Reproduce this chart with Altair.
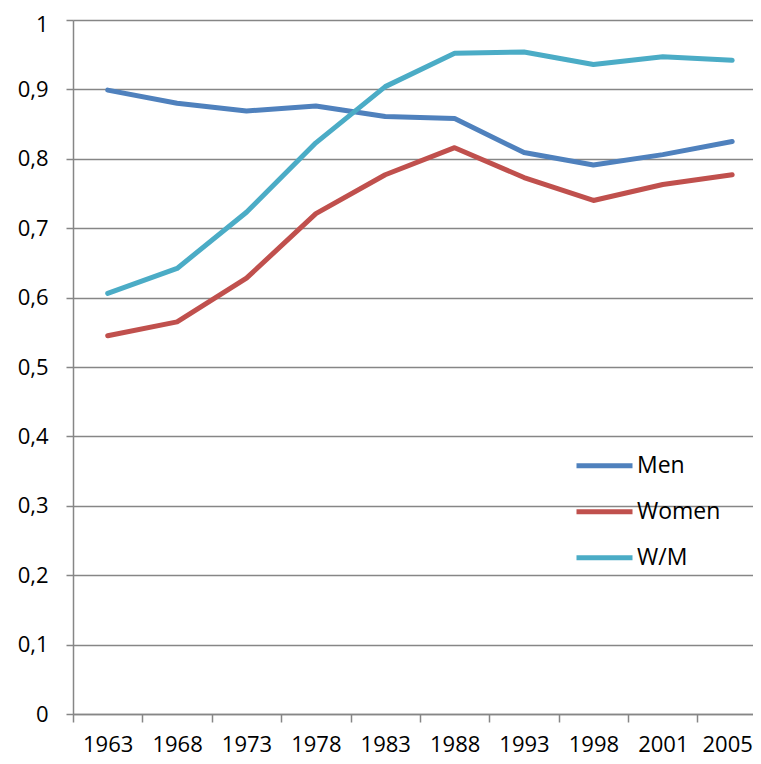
import altair as alt
import pandas as pd

years = ["1963", "1968", "1973", "1978", "1983", "1988", "1993", "1998", "2001", "2005"]
men = [0.899, 0.880, 0.869, 0.876, 0.861, 0.858, 0.809, 0.791, 0.806, 0.825]
women = [0.545, 0.565, 0.628, 0.721, 0.777, 0.816, 0.773, 0.740, 0.763, 0.777]
wm = [0.606, 0.642, 0.723, 0.823, 0.904, 0.952, 0.954, 0.936, 0.947, 0.942]
series = ["Men", "Women", "W/M"]
colors = ["#4F81BD", "#C0504D", "#4BACC6"]
y_ticks = [0, 0.1, 0.2, 0.3, 0.4, 0.5, 0.6, 0.7, 0.8, 0.9, 1.0]

rows = []
for name, vals in zip(series, [men, women, wm]):
    for i, (yr, v) in enumerate(zip(years, vals)):
        rows.append({"idx": i, "year": yr, "series": name, "value": v})
df = pd.DataFrame(rows)

FONT = "Open Sans"
GRID = "#868686"
STEP = 680 / 9.8

label_expr = "[" + ",".join(f"'{y}'" for y in years) + "][datum.value]"

chart = alt.Chart(df).mark_line(strokeWidth=5, strokeCap="round", strokeJoin="round").encode(
    x=alt.X("idx:Q",
            scale=alt.Scale(domain=[-0.5, 9.3], nice=False, zero=False),
            axis=alt.Axis(values=list(range(10)), labelExpr=label_expr, title=None,
                          grid=False, tickOffset=-STEP / 2,
                          labelOffset={"condition": {"test": "datum.value == 9", "value": STEP / 2 - 5},
                                       "value": STEP / 2},
                          tickSize=8, tickColor=GRID, tickWidth=1.5,
                          domainColor=GRID, domainWidth=1.5,
                          labelFont=FONT, labelFontSize=22, labelColor="#000000",
                          labelPadding=12, labelFlush=False, labelOverlap=False)),
    y=alt.Y("value:Q",
            scale=alt.Scale(domain=[0, 1], nice=False),
            axis=alt.Axis(values=y_ticks, title=None,
                          labelExpr="replace(format(datum.value, '.1~f'), '.', ',')",
                          labelOffset={"condition": {"test": "datum.value == 1", "value": 4},
                                       "value": 0},
                          grid=True, gridColor=GRID, gridWidth=1.3,
                          tickSize=7, tickColor=GRID, tickWidth=1.5,
                          domainColor=GRID, domainWidth=1.5,
                          labelFont=FONT, labelFontSize=22, labelColor="#000000",
                          labelPadding=18, labelFlush=False, labelOverlap=False)),
    color=alt.Color("series:N",
                    scale=alt.Scale(domain=series, range=colors),
                    sort=series,
                    legend=alt.Legend(orient="none", legendX=501, legendY=423,
                                      title=None, symbolType="stroke", symbolSize=3136,
                                      symbolStrokeWidth=5, labelFont=FONT,
                                      labelFontSize=23, labelColor="#000000",
                                      labelOffset=2, clipHeight=45.5, rowPadding=0,
                                      padding=0)),
    detail="series:N",
).properties(
    width=680, height=694,
    autosize=alt.AutoSizeParams(type="none"),
    padding={"left": 65, "top": 12, "right": 0, "bottom": 42},
).configure_view(stroke=None).configure(background="#ffffff")

chart.save("out.html", embed_options={"renderer": "svg", "actions": False})
